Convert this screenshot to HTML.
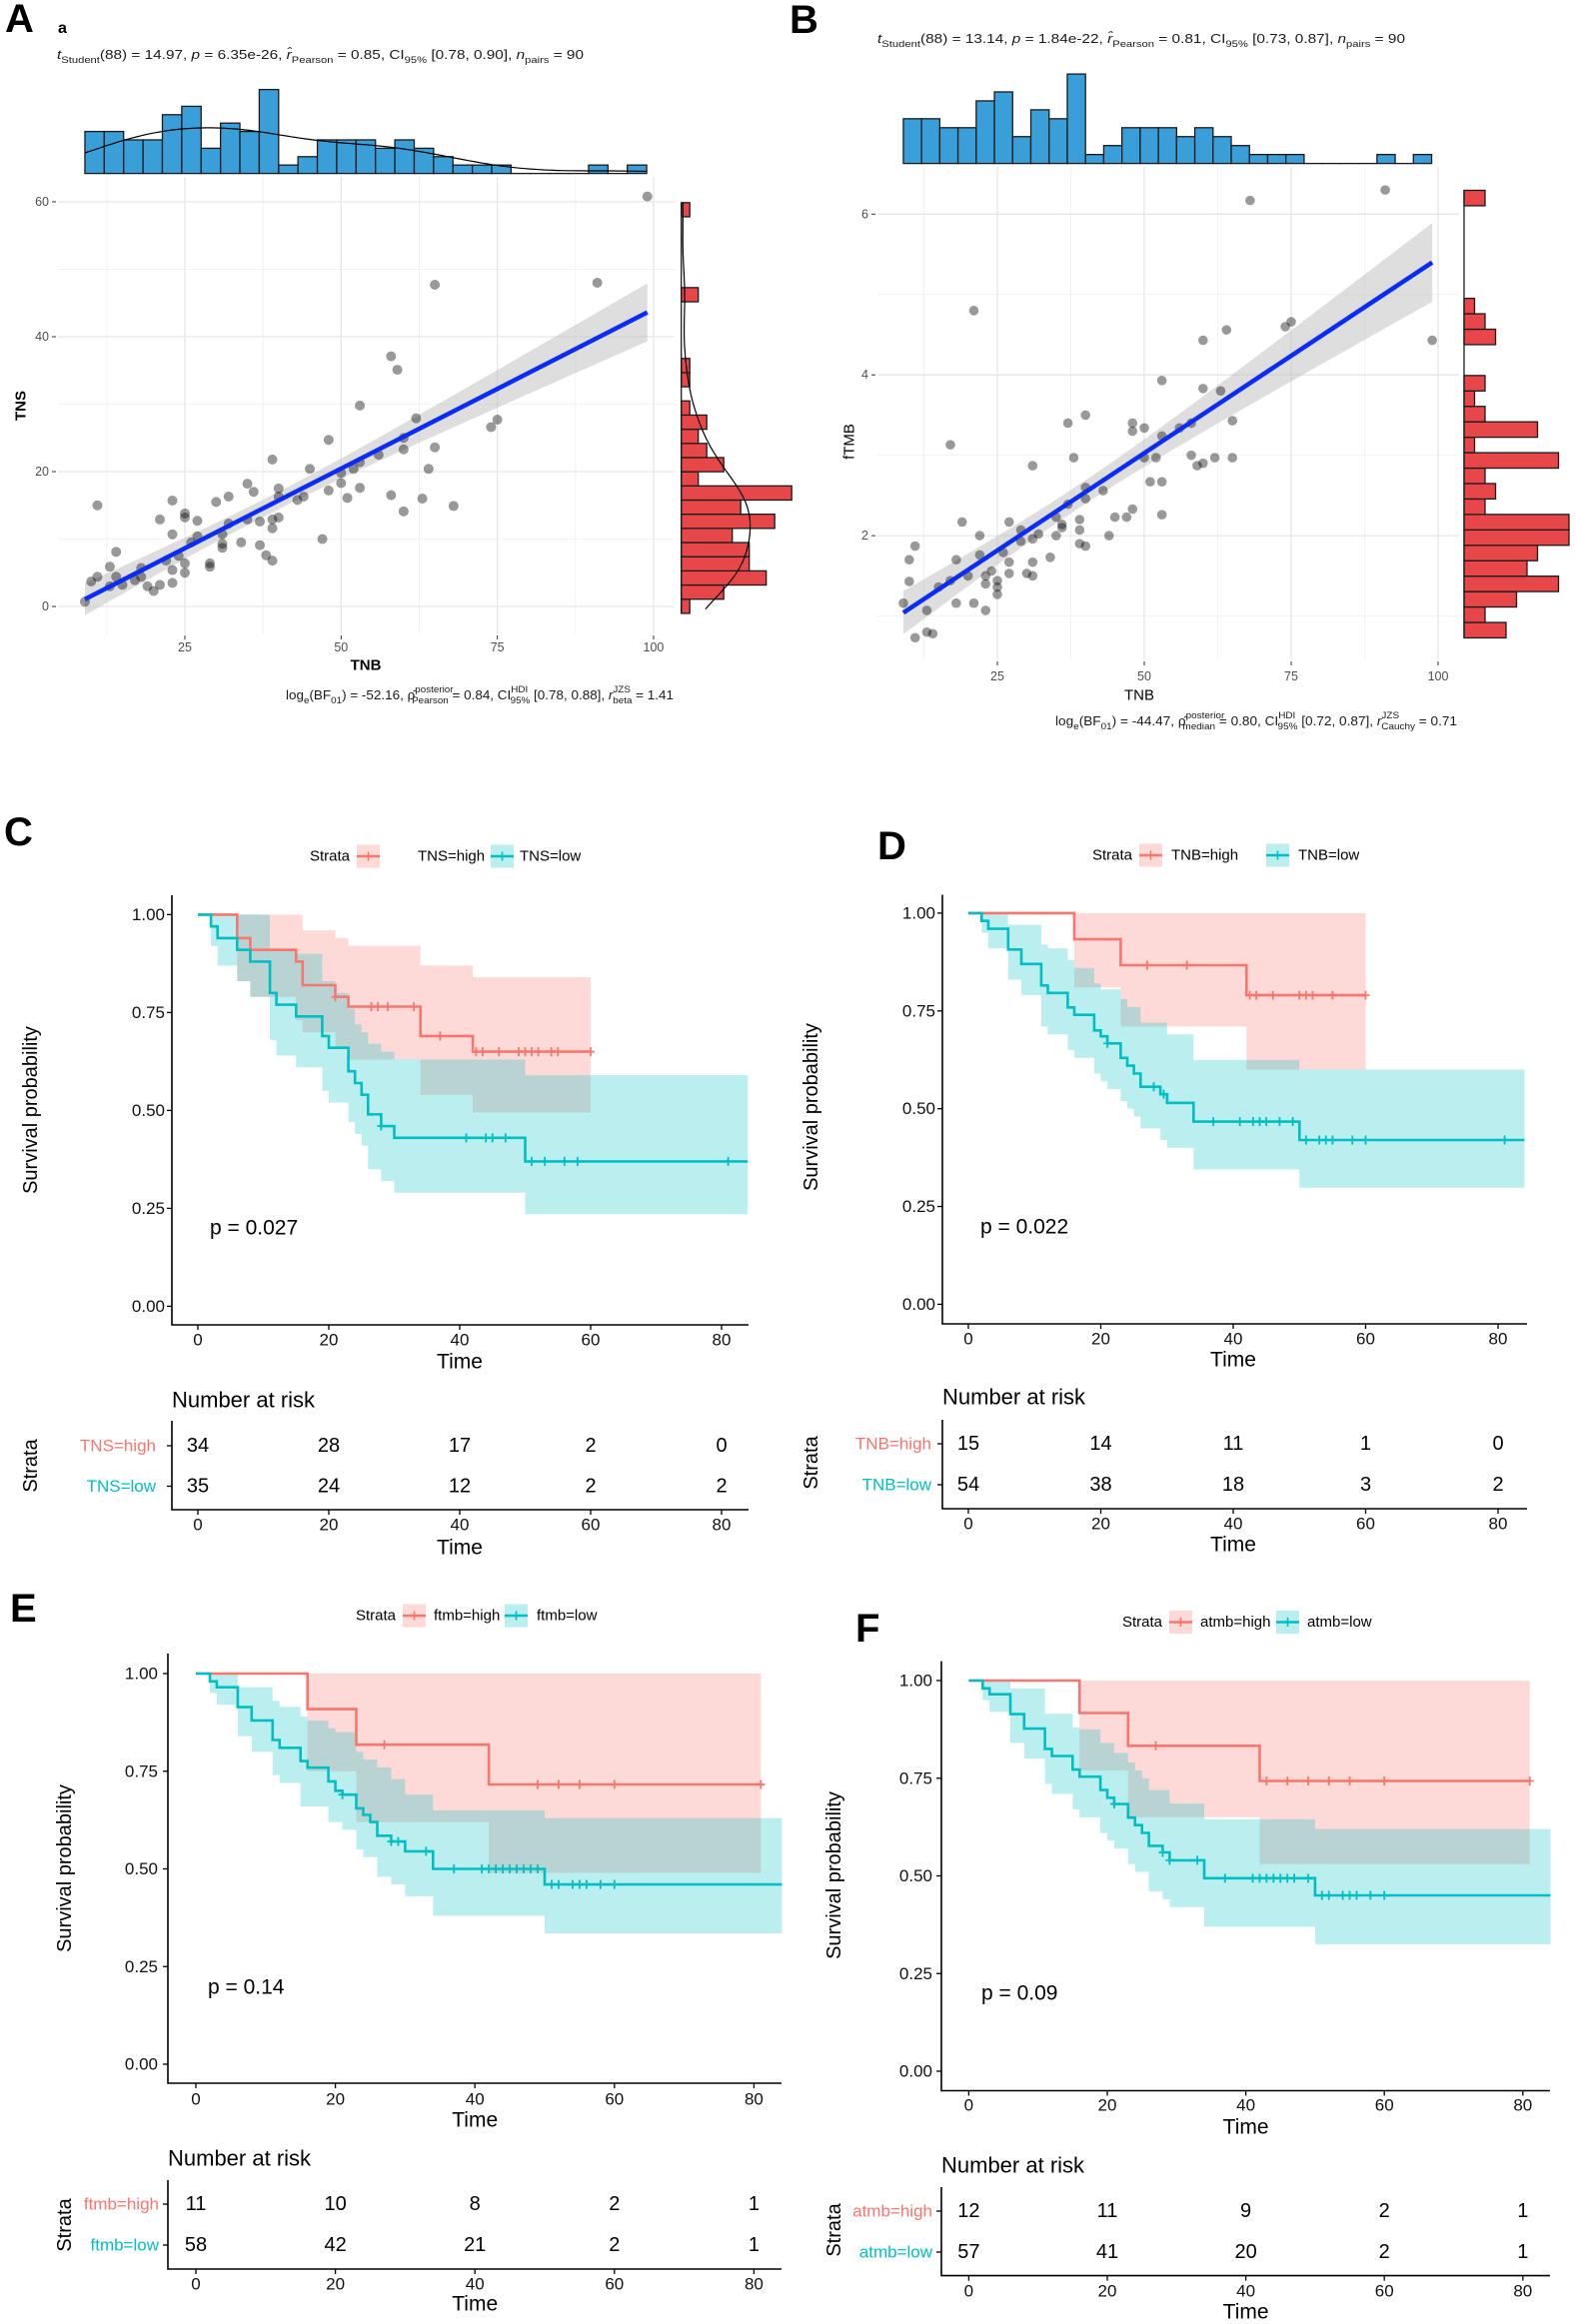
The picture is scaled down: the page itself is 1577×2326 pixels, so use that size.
<!DOCTYPE html>
<html><head><meta charset="utf-8"><title>Correlation and survival figure</title>
<style>
html,body{margin:0;padding:0;background:#fff;}
svg{display:block;font-family:"Liberation Sans",Arial,sans-serif;}
svg text{font-family:"Liberation Sans",Arial,sans-serif;}
</style></head>
<body>
<svg id="fig" xmlns="http://www.w3.org/2000/svg" width="1577" height="2326" viewBox="0 0 1577 2326">
<rect x="0" y="0" width="1577" height="2326" fill="#fff"/>
</svg>
<script>
// ---------------- DATA: Panel A (TNB vs TNS) ----------------
const A_tnb = [9,10,11,11,13,14,14,13,15,17,18,18,19,20,21,21,22,23,23,23,23,24,25,25,25,25,26,27,27,29,29,30,31,31,31,32,32,34,35,35,36,37,37,38,39,39,39,39,40,40,40,43,44,45,47,48,48,50,50,51,52,53,53,53,56,58,58,59,60,60,60,62,63,64,65,65,68,74,75,91,99];
const A_tns = [0.7,3.7,15,4.4,5.9,8.1,4.4,3,3.2,3.9,5.7,4.4,3,2.3,3.2,12.9,6.8,15.7,10.7,5.4,3.5,7.5,13.8,13.2,6.4,5,9.5,12.7,10.4,6.4,5.9,15.5,10.7,9.3,8.7,16.3,12.3,9.5,18.2,12.9,17,12.6,9.1,7.6,21.8,12.9,11.6,6.8,17.5,16.3,13.2,15.8,16.3,20.4,10,24.7,17.2,18.3,19.8,16.1,20.4,29.8,21.4,17.6,22.5,37.1,16.5,35.1,25,23.3,14.1,27.9,16,20.4,47.7,23.6,14.9,26.6,27.7,48,60.8];
// ---------------- DATA: Panel B (TNB vs fTMB) ----------------
const B_tnb = [9,10,10,11,11,13,13,14,15,17,17,18,18,19,20,21,21,22,22,23,23,23,24,25,25,25,26,27,27,27,29,29,30,31,31,31,31,32,34,35,35,36,36,37,37,38,39,39,39,40,40,40,40,43,44,45,47,48,48,48,50,50,51,52,53,53,53,53,56,58,58,59,60,60,60,62,63,64,65,65,68,74,75,91,99];
const B_ftmb = [1.16,1.70,1.43,1.87,0.73,1.07,0.80,0.78,1.36,3.13,1.44,1.70,1.16,2.17,1.5,4.8,1.16,2.0,1.76,1.5,1.4,1.07,1.56,1.44,1.36,1.27,1.79,2.17,1.67,1.53,2.07,1.93,1.53,2.87,1.96,1.67,1.5,2.02,1.73,2.23,2.0,2.14,2.1,3.4,2.39,2.97,2.2,2.07,1.9,3.5,2.6,2.46,1.87,2.56,2.0,2.23,2.23,3.4,3.3,2.33,3.34,2.97,2.67,2.97,3.93,3.24,2.67,2.26,3.34,3.4,3.0,2.87,4.43,3.83,2.9,2.97,3.8,4.56,3.43,2.97,6.17,4.6,4.66,6.3,4.43];
// marginal histogram counts
const tnbHistCounts = [5,5,4,4,7,8,3,6,5,10,1,2,4,4,4,3,4,3,2,1,1,1,0,0,0,0,1,0,1];
const tnbHistStart = 9.0, tnbHistWidth = 3.1;
const tnsHistCounts = [1,5,10,8,8,6,11,7,13,2,5,3,2,3,1,0,1,1,0,0,0,0,2,0,0,0,0,0,1];
const tnsHistStart = -1.02, tnsHistWidth = 2.1;
const ftmbHistCounts = [4,2,5,9,6,7,10,10,2,3,2,9,1,7,2,1,2,0,0,3,2,1,0,0,0,0,0,0,2];
const ftmbHistStart = 0.728, ftmbHistWidth = 0.192;
const scatterXTicks = [25,50,75,100];
const scatterXMinor = [12.5,37.5,62.5,87.5];
const A_yTicks = [0,20,40,60];
const A_yMinor = [10,30,50];
const B_yTicks = [2,4,6];
const B_yMinor = [1,3,5];

// ---------------- DATA: Kaplan-Meier panels ----------------
const kmTimeTicks = [0,20,40,60,80];
const kmSurvTicks = [0,0.25,0.5,0.75,1];
const kmSurvTickLabels = ["0.00","0.25","0.50","0.75","1.00"];
// C
const C_high_t = [0,6,8,15,16,21,23,34,42,60];
const C_high_s = [1,0.94,0.91,0.88,0.82,0.79,0.765,0.69,0.65,0.65];
const C_high_ci_t = [0,6,8,15,16,21,23,34,42,60];
const C_high_hi = [1,1,1,1,0.96,0.94,0.92,0.87,0.84,0.84];
const C_high_lo = [1,0.83,0.79,0.73,0.70,0.66,0.63,0.54,0.495,0.495];
const C_high_cens = [21,26.5,27.5,29,33,37,42.5,43.5,46,49,50,51,52,54,55,60];
const C_low_t = [0,2,3,6,8,11,12,15,19,20,23,24,25,26,28,30,50,84];
const C_low_s = [1,0.97,0.94,0.91,0.88,0.80,0.77,0.74,0.69,0.66,0.60,0.57,0.54,0.49,0.46,0.43,0.37,0.37];
const C_low_ci_t = [0,2,3,6,8,11,12,15,19,20,21,23,24,25,26,28,30,50,84];
const C_low_hi = [1,1,1,1,1,0.91,0.91,0.90,0.83,0.83,0.80,0.76,0.72,0.70,0.67,0.65,0.63,0.59,0.59];
const C_low_lo = [1,0.92,0.87,0.83,0.79,0.68,0.64,0.61,0.55,0.52,0.52,0.47,0.44,0.41,0.35,0.32,0.29,0.235,0.235];
const C_low_cens = [28,41,44,45,47,51,53,56,58,81];
const C_nar_high = [34,28,17,2,0];
const C_nar_low = [35,24,12,2,2];
// D
const D_high_t = [0,16,23,42,60];
const D_high_s = [1,0.933,0.867,0.79,0.79];
const D_high_ci_t = [0,16,23,42,60];
const D_high_hi = [1,1,1,1,1];
const D_high_lo = [1,0.81,0.71,0.60,0.60];
const D_high_cens = [27,33,42.5,43.5,46,50,51,52,55,60];
const D_low_t = [0,2,3,6,8,11,12,15,16,19,20,21,23,24,25,26,29,30,34,50,84];
const D_low_s = [1,0.98,0.96,0.907,0.87,0.815,0.796,0.759,0.74,0.70,0.685,0.667,0.63,0.61,0.59,0.556,0.537,0.515,0.467,0.42,0.42];
const D_low_ci_t = [0,2,3,6,8,11,12,15,16,19,20,21,23,24,25,26,29,30,34,50,84];
const D_low_hi = [1,1,1,0.97,0.97,0.92,0.91,0.88,0.86,0.82,0.805,0.805,0.78,0.76,0.76,0.72,0.72,0.69,0.625,0.60,0.60];
const D_low_lo = [1,0.95,0.91,0.83,0.79,0.71,0.69,0.65,0.63,0.59,0.57,0.55,0.52,0.50,0.48,0.45,0.42,0.40,0.345,0.298,0.298];
const D_low_cens = [21,28,29.5,37,41,43,44,45,47,49,51,53,54,55,58,60,81];
const D_nar_high = [15,14,11,1,0];
const D_nar_low = [54,38,18,3,2];
// E
const E_high_t = [0,16,23,42,81];
const E_high_s = [1,0.909,0.818,0.716,0.716];
const E_high_ci_t = [0,16,23,42,81];
const E_high_hi = [1,1,1,1,1];
const E_high_lo = [1,0.75,0.62,0.49,0.49];
const E_high_cens = [27,49,52,55,60,81];
const E_low_t = [0,2,3,6,8,11,12,15,16,19,20,21,23,24,25,26,28,30,34,50,84];
const E_low_s = [1,0.98,0.965,0.914,0.88,0.83,0.81,0.776,0.759,0.724,0.70,0.69,0.655,0.638,0.62,0.585,0.57,0.545,0.50,0.46,0.46];
const E_low_ci_t = [0,2,3,6,8,11,12,15,16,19,20,21,23,24,25,26,28,30,34,50,84];
const E_low_hi = [1,1,1,0.965,0.965,0.93,0.915,0.89,0.88,0.86,0.85,0.85,0.80,0.78,0.78,0.76,0.73,0.69,0.65,0.63,0.63];
const E_low_lo = [1,0.95,0.92,0.84,0.80,0.74,0.72,0.66,0.66,0.62,0.62,0.60,0.55,0.53,0.53,0.48,0.46,0.43,0.38,0.335,0.335];
const E_low_cens = [21,28,29,33,37,41,42,43,44,45,46,47,48,49,51,52,54,55,56,58,60];
const E_nar_high = [11,10,8,2,1];
const E_nar_low = [58,42,21,2,1];
// F
const F_high_t = [0,16,23,42,81];
const F_high_s = [1,0.917,0.833,0.743,0.743];
const F_high_ci_t = [0,16,23,42,81];
const F_high_hi = [1,1,1,1,1];
const F_high_lo = [1,0.77,0.65,0.53,0.53];
const F_high_cens = [27,43,46,49,52,55,60,81];
const F_low_t = [0,2,3,6,8,11,12,15,16,19,20,21,23,24,25,26,28,29,34,50,84];
const F_low_s = [1,0.98,0.965,0.914,0.877,0.825,0.807,0.772,0.754,0.72,0.70,0.684,0.649,0.63,0.61,0.577,0.56,0.54,0.494,0.45,0.45];
const F_low_ci_t = [0,2,3,6,8,11,12,15,16,19,20,21,23,24,25,26,28,29,34,50,84];
const F_low_hi = [1,1,1,0.98,0.98,0.915,0.915,0.88,0.875,0.84,0.84,0.815,0.79,0.77,0.75,0.72,0.72,0.685,0.645,0.62,0.62];
const F_low_lo = [1,0.95,0.92,0.84,0.80,0.735,0.71,0.67,0.65,0.61,0.59,0.57,0.53,0.51,0.51,0.46,0.44,0.42,0.37,0.325,0.325];
const F_low_cens = [21,28,29,33,37,41,42,43,44,45,46,47,49,51,52,54,55,56,58,60];
const F_nar_high = [12,11,9,2,1];
const F_nar_low = [57,41,20,2,1];

// ---------------- helpers ----------------
const svg = document.getElementById('fig');
const NS = 'http://www.w3.org/2000/svg';
function mk(tag, attrs, parent){
  const e = document.createElementNS(NS, tag);
  for (const k in attrs) e.setAttribute(k, attrs[k]);
  (parent || svg).appendChild(e);
  return e;
}
function txt(s, attrs, parent){
  const e = mk('text', attrs, parent);
  e.textContent = s;
  return e;
}
function tsp(parent, s, attrs){
  const e = mk('tspan', attrs || {}, parent);
  e.textContent = s;
  return e;
}
const RED = '#F8766D', TEAL = '#00BFC4';

// ---------------- panel letters ----------------
[['A',5,32],['B',790,33],['C',4,846],['D',878,860],['E',10,1623],['F',856,1643]].forEach(p=>{
  const t = txt(p[0], {x:p[1], y:p[2], 'font-size':40, 'font-weight':'bold', fill:'#000'});
  
  
});
const aSub = txt('a', {x:58, y:33, 'font-size':16, 'font-weight':'bold', 'font-family':'Liberation Sans, sans-serif'});



// ---------------- scatter panels ----------------
function regression(xs, ys){
  const n = xs.length;
  const mx = xs.reduce((a,b)=>a+b,0)/n, my = ys.reduce((a,b)=>a+b,0)/n;
  let sxx=0, sxy=0;
  for (let i=0;i<n;i++){ sxx += (xs[i]-mx)**2; sxy += (xs[i]-mx)*(ys[i]-my); }
  const b = sxy/sxx, a = my - b*mx;
  let sse=0; for (let i=0;i<n;i++) sse += (ys[i]-a-b*xs[i])**2;
  const s = Math.sqrt(sse/(n-2));
  return {a, b, s, mx, sxx, n};
}
function kdeCurve(counts, start, width, lo, hi, steps){
  const centers = counts.map((c,i)=>start + (i+0.5)*width);
  const total = counts.reduce((a,b)=>a+b,0);
  let mean=0; centers.forEach((c,i)=>mean+=c*counts[i]); mean/=total;
  let v=0; centers.forEach((c,i)=>v+=counts[i]*(c-mean)**2); const sd=Math.sqrt(v/total);
  const bw = 1.06*sd*Math.pow(total,-0.2);
  const out=[];
  for (let k=0;k<=steps;k++){
    const x = lo + (hi-lo)*k/steps;
    let d=0;
    centers.forEach((c,i)=>{ d += counts[i]*Math.exp(-0.5*((x-c)/bw)**2)/(bw*Math.sqrt(2*Math.PI)); });
    out.push([x, d*width]);
  }
  return out;
}
function drawScatter(cfg, xs, ys, xHist, yHist, yHistStart, yHistWidth, yTicks, yMinor, name){
  const g = mk('g', {});
  
  
  const X = v => cfg.xp0 + (v - cfg.xv0)*cfg.xk;
  const Y = v => cfg.yp0 - (v - cfg.yv0)*cfg.yk;
  scatterXMinor.forEach(v=>{ mk('line',{x1:X(v),x2:X(v),y1:cfg.top,y2:cfg.bottom,stroke:'#f2f2f2','stroke-width':1},g); });
  yMinor.forEach(v=>{ mk('line',{x1:cfg.left,x2:cfg.right,y1:Y(v),y2:Y(v),stroke:'#f2f2f2','stroke-width':1},g); });
  scatterXTicks.forEach(v=>{ mk('line',{x1:X(v),x2:X(v),y1:cfg.top,y2:cfg.bottom,stroke:'#e6e6e6','stroke-width':1.3},g); });
  yTicks.forEach(v=>{ mk('line',{x1:cfg.left,x2:cfg.right,y1:Y(v),y2:Y(v),stroke:'#e6e6e6','stroke-width':1.3},g); });
  yTicks.forEach(v=>{
    mk('line',{x1:cfg.left-6,x2:cfg.left-2,y1:Y(v),y2:Y(v),stroke:'#333','stroke-width':1},g);
    const t = txt(String(v),{x:cfg.left-9,y:Y(v),'text-anchor':'end','dominant-baseline':'central','font-size':12.5,fill:'#4d4d4d'},g);
    
    
  });
  scatterXTicks.forEach(v=>{
    mk('line',{x1:X(v),x2:X(v),y1:cfg.bottom+2,y2:cfg.bottom+6,stroke:'#333','stroke-width':1},g);
    const t = txt(String(v),{x:X(v),y:cfg.xtickY,'text-anchor':'middle','dominant-baseline':'central','font-size':12.5,fill:'#4d4d4d'},g);
    
    
  });
  const r = regression(xs, ys);
  const xmin = Math.min(...xs), xmax = Math.max(...xs);
  const up=[], dn=[];
  for (let k=0;k<=60;k++){
    const x = xmin + (xmax-xmin)*k/60;
    const yh = r.a + r.b*x;
    const hw = 1.99*r.s*Math.sqrt(1/r.n + (x-r.mx)**2/r.sxx);
    up.push(X(x)+','+Y(yh+hw)); dn.unshift(X(x)+','+Y(yh-hw));
  }
  const band = mk('polygon',{points:up.concat(dn).join(' '),fill:'#bdbdbd','fill-opacity':0.5},g);
  
  
  for (let i=0;i<xs.length;i++){
    const c = mk('circle',{cx:X(xs[i]),cy:Y(ys[i]),r:cfg.pr,fill:'#000','fill-opacity':0.4},g);
    
    
  }
  const ln = mk('line',{x1:X(xmin),y1:Y(r.a+r.b*xmin),x2:X(xmax),y2:Y(r.a+r.b*xmax),stroke:'#0a2cf5','stroke-width':4.5},g);
  
  
  const th = mk('g',{},g);
  
  
  xHist.forEach((c,i)=>{
    const x0 = X(tnbHistStart + i*tnbHistWidth), x1 = X(tnbHistStart + (i+1)*tnbHistWidth);
    const b = mk('rect',{x:x0,y:cfg.thBase - c*cfg.thK,width:x1-x0,height:Math.max(c*cfg.thK,0.01),fill:'#3a9ed8',stroke:'#1a1a1a','stroke-width':1.3},th);
    
    
  });
  if (cfg.topDensity){
    const pts = kdeCurve(xHist, tnbHistStart, tnbHistWidth, tnbHistStart, tnbHistStart+xHist.length*tnbHistWidth, 120);
    const d = pts.map((p,k)=>(k?'L':'M')+X(p[0]).toFixed(1)+','+(cfg.thBase - p[1]*cfg.thK).toFixed(1)).join(' ');
    const dp = mk('path',{d,fill:'none',stroke:'#000','stroke-width':1.2},th);
    
    
  }
  const rh = mk('g',{},g);
  
  
  yHist.forEach((c,i)=>{
    if (c<=0) return;
    const y0 = Y(yHistStart + i*yHistWidth), y1 = Y(yHistStart + (i+1)*yHistWidth);
    const b = mk('rect',{x:cfg.rhBase,y:y1,width:c*cfg.rhK,height:y0-y1,fill:'#e8474a',stroke:'#1a1a1a','stroke-width':1.3},rh);
    
    
  });
  mk('line',{x1:cfg.rhBase,x2:cfg.rhBase,y1:Y(yHistStart+yHist.length*yHistWidth),y2:Y(yHistStart),stroke:'#1a1a1a','stroke-width':1.3},rh);
  if (cfg.rightDensity){
    const pts = kdeCurve(yHist, yHistStart, yHistWidth, yHistStart+0.3*yHistWidth, yHistStart+yHist.length*yHistWidth, 140);
    const d = pts.map((p,k)=>(k?'L':'M')+(cfg.rhBase + p[1]*cfg.rhK).toFixed(1)+','+Y(p[0]).toFixed(1)).join(' ');
    const dp = mk('path',{d,fill:'none',stroke:'#000','stroke-width':1.2},rh);
    
    
  }
  return g;
}
drawScatter({xv0:25,xp0:185,xk:6.253,yv0:0,yp0:607,yk:6.75,left:58,right:675,top:177,bottom:634,xtickY:648,pr:5,
  thBase:173.6,thK:8.4,rhBase:681.7,rhK:8.5,topDensity:true,rightDensity:true},
  A_tnb, A_tns, tnbHistCounts, tnsHistCounts, tnsHistStart, tnsHistWidth, A_yTicks, A_yMinor, 'scatter-tnb-tns');
drawScatter({xv0:25,xp0:998,xk:5.88,yv0:2,yp0:536.1,yk:80.45,left:878,right:1460,top:167,bottom:660,xtickY:677,pr:4.8,
  thBase:163.6,thK:8.95,rhBase:1465,rhK:10.5,topDensity:false,rightDensity:false},
  B_tnb, B_ftmb, tnbHistCounts, ftmbHistCounts, ftmbHistStart, ftmbHistWidth, B_yTicks, B_yMinor, 'scatter-tnb-ftmb');

let t;
t = txt('TNB',{x:366,y:666,'text-anchor':'middle','dominant-baseline':'central','font-size':15,'font-weight':'bold'});
 
t = txt('TNS',{x:0,y:0,'text-anchor':'middle','dominant-baseline':'central','font-size':15,'font-weight':'bold',transform:'translate(21,406) rotate(-90)'});
 
t = txt('TNB',{x:1140,y:696,'text-anchor':'middle','dominant-baseline':'central','font-size':15});
 
t = txt('fTMB',{x:0,y:0,'text-anchor':'middle','dominant-baseline':'central','font-size':15,transform:'translate(850,442) rotate(-90)'});
 

function statLine(x, y, w, parts, name){
  const e = txt('',{x:x,y:y,'font-size':13,fill:'#1a1a1a',textLength:w,lengthAdjust:'spacingAndGlyphs'});
  
  
  parts.forEach(p=>{
    const a = {};
    if (p.i) a['font-style']='italic';
    if (p.s){ a['font-size']=9.5; a.dy = p.s; }
    if (p.back) a.dy = p.back;
    if (p.dx) a.dx = p.dx;
    tsp(e, p.t, a);
  });
  return e;
}
statLine(57, 59, 527, [
  {t:'t',i:1},{t:'Student',s:4},{t:'(88) = 14.97, ',back:-4},{t:'p',i:1},{t:' = 6.35e-26, '},{t:'r̂',i:1},{t:'Pearson',s:4},
  {t:' = 0.85, CI',back:-4},{t:'95%',s:4},{t:' [0.78, 0.90], ',back:-4},{t:'n',i:1},{t:'pairs',s:4},{t:' = 90',back:-4}], 'a-stats-subtitle');
statLine(878, 43, 528, [
  {t:'t',i:1},{t:'Student',s:4},{t:'(88) = 13.14, ',back:-4},{t:'p',i:1},{t:' = 1.84e-22, '},{t:'r̂',i:1},{t:'Pearson',s:4},
  {t:' = 0.81, CI',back:-4},{t:'95%',s:4},{t:' [0.73, 0.87], ',back:-4},{t:'n',i:1},{t:'pairs',s:4},{t:' = 90',back:-4}], 'b-stats-subtitle');
statLine(286, 700, 388, [
  {t:'log'},{t:'e',s:4},{t:'(BF',back:-4},{t:'01',s:4},{t:') = -52.16, ',back:-4},{t:'ρ̂'},{t:'posterior',s:-7},{t:'Pearson',s:11,dx:-40},
  {t:' = 0.84, CI',back:-4},{t:'HDI',s:-7},{t:'95%',s:11,dx:-17},{t:' [0.78, 0.88], ',back:-4},{t:'r',i:1},{t:'JZS',s:-7},{t:'beta',s:11,dx:-17},{t:' = 1.41',back:-4}], 'a-bayes-caption');
statLine(1056, 726, 402, [
  {t:'log'},{t:'e',s:4},{t:'(BF',back:-4},{t:'01',s:4},{t:') = -44.47, ',back:-4},{t:'ρ̂'},{t:'posterior',s:-7},{t:'median',s:11,dx:-40},
  {t:' = 0.80, CI',back:-4},{t:'HDI',s:-7},{t:'95%',s:11,dx:-17},{t:' [0.72, 0.87], ',back:-4},{t:'r',i:1},{t:'JZS',s:-7},{t:'Cauchy',s:11,dx:-17},{t:' = 0.71',back:-4}], 'b-bayes-caption');

// ---------------- Kaplan-Meier panels ----------------
function drawKM(c, series, narHigh, narLow, labels, pText, name){
  const g = mk('g',{});
  
  
  const X = tv => c.t0 + tv*c.ppt;
  const Y = s => c.y0 - s*(c.y0 - c.y1);
  const sAt = (ts, ss, tv) => { let v = ss[0]; for (let i=0;i<ts.length;i++) if (ts[i] <= tv) v = ss[i]; return v; };
  series.forEach(sr=>{
    const top=[], bot=[];
    for (let i=0;i<sr.ciT.length-1;i++){
      top.push(X(sr.ciT[i])+','+Y(sr.hi[i]), X(sr.ciT[i+1])+','+Y(sr.hi[i]));
      bot.push(X(sr.ciT[i])+','+Y(sr.lo[i]), X(sr.ciT[i+1])+','+Y(sr.lo[i]));
    }
    bot.reverse();
    const p = mk('polygon',{points:top.concat(bot).join(' '),fill:sr.col,'fill-opacity':0.27},g);
    
    
  });
  series.forEach(sr=>{
    let d = 'M'+X(sr.t[0])+','+Y(sr.s[0]);
    for (let i=1;i<sr.t.length;i++){ d += ' H'+X(sr.t[i]).toFixed(1)+' V'+Y(sr.s[i]).toFixed(1); }
    const p = mk('path',{d,fill:'none',stroke:sr.col,'stroke-width':2.6},g);
    
    
    sr.cens.forEach(tv=>{
      const cx = X(tv), cy = Y(sAt(sr.t, sr.s, tv));
      const m = mk('path',{d:`M${cx-4},${cy}H${cx+4}M${cx},${cy-4.5}V${cy+4.5}`,stroke:sr.col,'stroke-width':1.8},g);
      
      
    });
  });
  mk('path',{d:`M${c.axL},${c.axT}V${c.axB}H${c.axR}`,fill:'none',stroke:'#000','stroke-width':1.6},g);
  kmSurvTicks.forEach((s,i)=>{
    mk('line',{x1:c.axL-5,x2:c.axL,y1:Y(s),y2:Y(s),stroke:'#000','stroke-width':1.3},g);
    const tl = txt(kmSurvTickLabels[i],{x:c.ytickR,y:Y(s),'text-anchor':'end','dominant-baseline':'central','font-size':17,fill:'#111'},g);
    
    
  });
  kmTimeTicks.forEach(tv=>{
    mk('line',{x1:X(tv),x2:X(tv),y1:c.axB,y2:c.axB+5,stroke:'#000','stroke-width':1.3},g);
    const tl = txt(String(tv),{x:X(tv),y:c.xtickY,'text-anchor':'middle','dominant-baseline':'central','font-size':17,fill:'#111'},g);
    
    
  });
  let e = txt('Time',{x:(X(0)+X(80))/2,y:c.timeY,'text-anchor':'middle','dominant-baseline':'central','font-size':21},g);
   
  e = txt('Survival probability',{x:0,y:0,'text-anchor':'middle','dominant-baseline':'central','font-size':20,transform:`translate(${c.survX},${c.survY}) rotate(-90)`},g);
   
  e = txt(pText,{x:c.pX,y:c.pY,'dominant-baseline':'central','font-size':21},g);
   
  const lg = mk('g',{},g);
  
  
  e = txt('Strata',{x:c.legStrataX,y:c.legY,'dominant-baseline':'central','font-size':15},lg);
   
  [[c.legBox1,c.legLab1,RED,labels[0]],[c.legBox2,c.legLab2,TEAL,labels[1]]].forEach(L=>{
    const key = mk('g',{},lg);
    
    
    mk('rect',{x:L[0],y:c.legY-11.5,width:23,height:23,fill:L[2],'fill-opacity':0.27},key);
    mk('line',{x1:L[0],x2:L[0]+23,y1:c.legY,y2:c.legY,stroke:L[2],'stroke-width':2.6},key);
    mk('path',{d:`M${L[0]+7.5},${c.legY}h8M${L[0]+11.5},${c.legY-4.5}v9`,stroke:L[2],'stroke-width':1.6},key);
    txt(L[3],{x:L[1],y:c.legY,'dominant-baseline':'central','font-size':15},key);
  });
  const nr = mk('g',{});
  
  
  e = txt('Number at risk',{x:c.axL,y:c.narTitleY,'dominant-baseline':'central','font-size':22},nr);
   
  mk('path',{d:`M${c.axL},${c.narTop}V${c.narAx}H${c.axR}`,fill:'none',stroke:'#000','stroke-width':1.6},nr);
  [[c.row1,RED,labels[0],narHigh],[c.row2,TEAL,labels[1],narLow]].forEach(R=>{
    mk('line',{x1:c.axL-5,x2:c.axL,y1:R[0],y2:R[0],stroke:'#000','stroke-width':1.3},nr);
    const rl = txt(R[2],{x:c.rowLabR,y:R[0],'text-anchor':'end','dominant-baseline':'central','font-size':17,fill:R[1]},nr);
    
    
    R[3].forEach((v,i)=>{
      const vt = txt(String(v),{x:X(kmTimeTicks[i]),y:R[0],'text-anchor':'middle','dominant-baseline':'central','font-size':20},nr);
      
      
    });
  });
  kmTimeTicks.forEach(tv=>{
    mk('line',{x1:X(tv),x2:X(tv),y1:c.narAx,y2:c.narAx+5,stroke:'#000','stroke-width':1.3},nr);
    const tl = txt(String(tv),{x:X(tv),y:c.narTickY,'text-anchor':'middle','dominant-baseline':'central','font-size':17,fill:'#111'},nr);
    
    
  });
  e = txt('Time',{x:(X(0)+X(80))/2,y:c.narTimeY,'text-anchor':'middle','dominant-baseline':'central','font-size':21},nr);
   
  e = txt('Strata',{x:0,y:0,'text-anchor':'middle','dominant-baseline':'central','font-size':20,transform:`translate(${c.strataX},${c.strataY}) rotate(-90)`},nr);
   
}
function ser(key,col,t,s,ciT,hi,lo,cens){ return {key,col,t,s,ciT,hi,lo,cens}; }

drawKM({axL:172,axB:1326,axT:896,axR:749,t0:198,ppt:6.55,y1:915.4,y0:1307.4,ytickR:165,xtickY:1341,timeY:1363,survX:31,survY:1111,pX:210,pY:1229,
  legY:857,legStrataX:310,legBox1:357,legLab1:418,legBox2:491,legLab2:520,narTitleY:1401,row1:1447,row2:1487.5,narAx:1511,narTop:1422,narTickY:1526,narTimeY:1549,rowLabR:156,strataX:31,strataY:1467},
  [ser('high',RED,C_high_t,C_high_s,C_high_ci_t,C_high_hi,C_high_lo,C_high_cens), ser('low',TEAL,C_low_t,C_low_s,C_low_ci_t,C_low_hi,C_low_lo,C_low_cens)],
  C_nar_high, C_nar_low, ['TNS=high','TNS=low'], 'p = 0.027', 'km-plot-tns');
drawKM({axL:943,axB:1325,axT:895.5,axR:1528,t0:969,ppt:6.625,y1:913.9,y0:1305.4,ytickR:936,xtickY:1340,timeY:1361,survX:812,survY:1108,pX:981,pY:1228,
  legY:856,legStrataX:1093,legBox1:1140,legLab1:1172,legBox2:1267,legLab2:1299,narTitleY:1398,row1:1445,row2:1486,narAx:1510,narTop:1421,narTickY:1525,narTimeY:1546,rowLabR:932,strataX:812,strataY:1464},
  [ser('high',RED,D_high_t,D_high_s,D_high_ci_t,D_high_hi,D_high_lo,D_high_cens), ser('low',TEAL,D_low_t,D_low_s,D_low_ci_t,D_low_hi,D_low_lo,D_low_cens)],
  D_nar_high, D_nar_low, ['TNB=high','TNB=low'], 'p = 0.022', 'km-plot-tnb');
drawKM({axL:168,axB:2085,axT:1655,axR:782,t0:196,ppt:6.98,y1:1675,y0:2066,ytickR:158,xtickY:2101,timeY:2122,survX:65,survY:1870,pX:208,pY:1989,
  legY:1617,legStrataX:356,legBox1:403,legLab1:434,legBox2:505,legLab2:537,narTitleY:2160,row1:2206,row2:2247,narAx:2271,narTop:2182,narTickY:2286,narTimeY:2306,rowLabR:159,strataX:65,strataY:2227},
  [ser('high',RED,E_high_t,E_high_s,E_high_ci_t,E_high_hi,E_high_lo,E_high_cens), ser('low',TEAL,E_low_t,E_low_s,E_low_ci_t,E_low_hi,E_low_lo,E_low_cens)],
  E_nar_high, E_nar_low, ['ftmb=high','ftmb=low'], 'p = 0.14', 'km-plot-ftmb');
drawKM({axL:942,axB:2092.5,axT:1662.6,axR:1551,t0:969.4,ppt:6.93,y1:1682,y0:2073,ytickR:933,xtickY:2107,timeY:2129,survX:835,survY:1877,pX:982,pY:1995,
  legY:1623.5,legStrataX:1123,legBox1:1170,legLab1:1201,legBox2:1277,legLab2:1308,narTitleY:2167,row1:2213,row2:2254,narAx:2277.6,narTop:2189,narTickY:2293,narTimeY:2314,rowLabR:933,strataX:835,strataY:2232},
  [ser('high',RED,F_high_t,F_high_s,F_high_ci_t,F_high_hi,F_high_lo,F_high_cens), ser('low',TEAL,F_low_t,F_low_s,F_low_ci_t,F_low_hi,F_low_lo,F_low_cens)],
  F_nar_high, F_nar_low, ['atmb=high','atmb=low'], 'p = 0.09', 'km-plot-atmb');
</script>
</body></html>
